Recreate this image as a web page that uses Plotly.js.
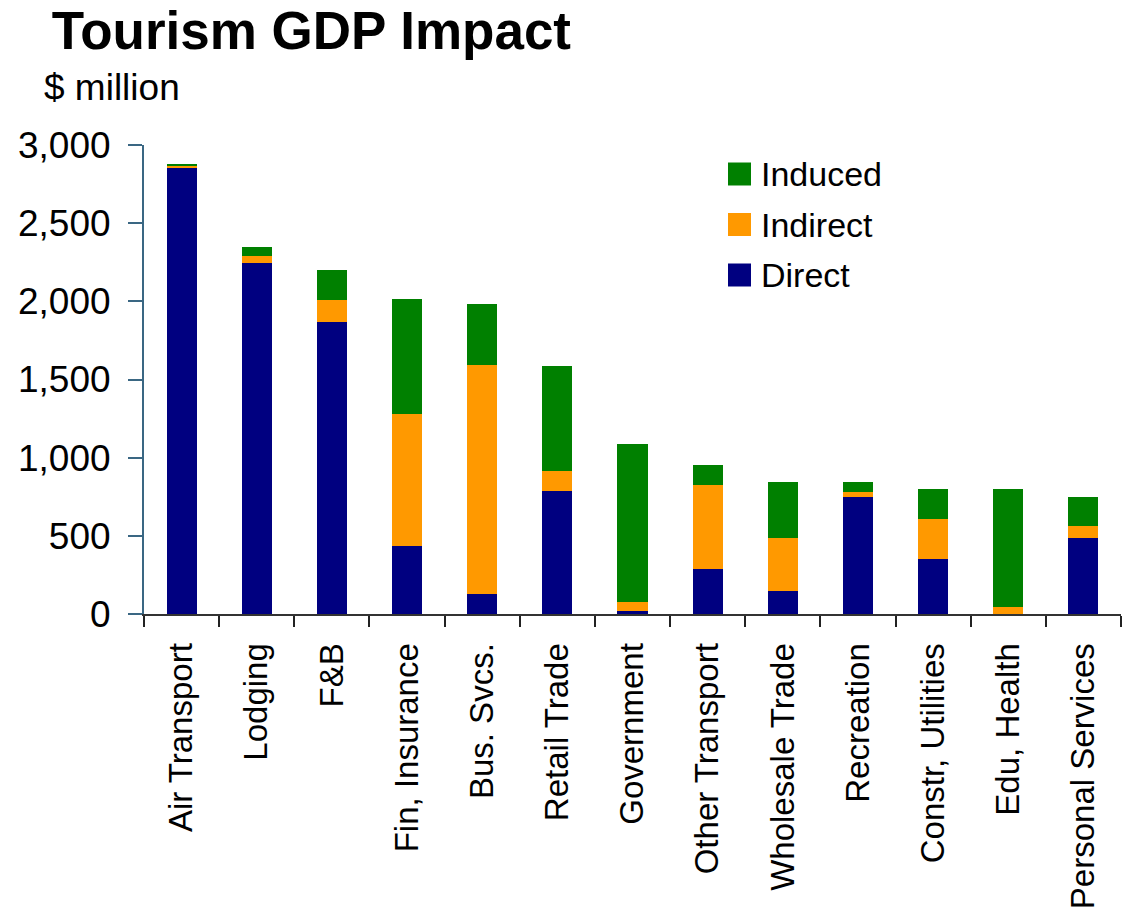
<!DOCTYPE html>
<html>
<head>
<meta charset="utf-8">
<script src="https://cdn.plot.ly/plotly-3.0.1.min.js"></script>
<style>html,body{margin:0;padding:0;background:#fff;}#chart{width:1124px;height:912px;}</style>
</head>
<body>
<div id="chart"></div>
<script>
var categories = ["Air Transport", "Lodging", "F&B", "Fin, Insurance", "Bus. Svcs.", "Retail Trade", "Government", "Other Transport", "Wholesale Trade", "Recreation", "Constr, Utilities", "Edu, Health", "Personal Services"];
var direct   = [2853, 2245, 1868, 432, 125, 784, 22, 291, 144, 746, 355, 3, 483];
var indirect = [13, 45, 141, 845, 1465, 128, 52, 531, 339, 32, 250, 39, 77];
var induced  = [13, 58, 191, 736, 391, 672, 1011, 128, 359, 64, 192, 755, 186];
var seriesNames = ["Direct", "Indirect", "Induced"];
var seriesColors = ["#000080", "#FF9900", "#008000"];
var yTicks = [0, 500, 1000, 1500, 2000, 2500, 3000];

var FONT = "Liberation Sans, Arial, sans-serif";
var seriesValues = [direct, indirect, induced];

var traces = seriesNames.map(function(n, i){
  return {type: "bar", name: n, x: categories, y: seriesValues[i], marker: {color: seriesColors[i]}};
});

// Legend drawn as shapes + annotations (top entry = last series)
var W = 1124, H = 912, ML = 144, MR = 3, MT = 145, MB = 298;
var PW = W - ML - MR, PH = H - MT - MB;
function px2x(px){ return (px - ML) / PW; }
function py2y(py){ return (H - MB - py) / PH; }
var legShapes = [], legAnns = [];
var legTop = 174, legStep = 50.5, sq = 23, sqLeft = 728, textLeft = 759;
for (var k = 0; k < seriesNames.length; k++) {
  var idx = seriesNames.length - 1 - k;
  var cy = legTop + k * legStep;
  legShapes.push({type: "rect", xref: "paper", yref: "paper",
    x0: px2x(sqLeft), x1: px2x(sqLeft + sq), y0: py2y(cy + sq/2), y1: py2y(cy - sq/2),
    fillcolor: seriesColors[idx], line: {width: 0}});
  legAnns.push({text: seriesNames[idx], xref: "paper", yref: "paper", x: px2x(textLeft), y: py2y(cy),
    xanchor: "left", yanchor: "middle", showarrow: false, font: {family: FONT, size: 34, color: "#000"}});
}

var layout = {
  width: W, height: H,
  paper_bgcolor: "#fff", plot_bgcolor: "#fff",
  barmode: "stack", bargap: 0.6,
  margin: {l: ML, r: MR, t: MT, b: MB, pad: 0},
  font: {family: FONT, color: "#000"},
  showlegend: false,
  title: {text: "<b>Tourism GDP Impact</b>", font: {family: FONT, size: 53, color: "#000"},
          xref: "container", yref: "container", x: 0.046, xanchor: "left", y: 0.967, yanchor: "middle"},
  xaxis: {type: "category", showline: true, linecolor: "#333", linewidth: 2, showgrid: false,
          ticks: "outside", tickson: "boundaries", ticklen: 11, tickwidth: 2, tickcolor: "#222",
          tickangle: -90, tickfont: {family: FONT, size: 33, color: "#000"}, ticklabelstandoff: 14, fixedrange: true},
  yaxis: {range: [0, 3000], tickvals: yTicks, tickformat: ",", showline: true, linecolor: "#3A6783", linewidth: 2,
          showgrid: false, zeroline: false, ticks: "outside", ticklen: 14, tickwidth: 2, tickcolor: "#3A6783",
          tickfont: {family: FONT, size: 37, color: "#000"}, ticklabelstandoff: 10},
  shapes: legShapes,
  annotations: [
    {text: "$ million", xref: "paper", yref: "paper", x: -0.104, y: 1.123, xanchor: "left", yanchor: "middle",
     showarrow: false, font: {family: FONT, size: 37, color: "#000"}}
  ].concat(legAnns)
};

Plotly.newPlot("chart", traces, layout, {displayModeBar: false, staticPlot: true});
</script>
</body>
</html>
